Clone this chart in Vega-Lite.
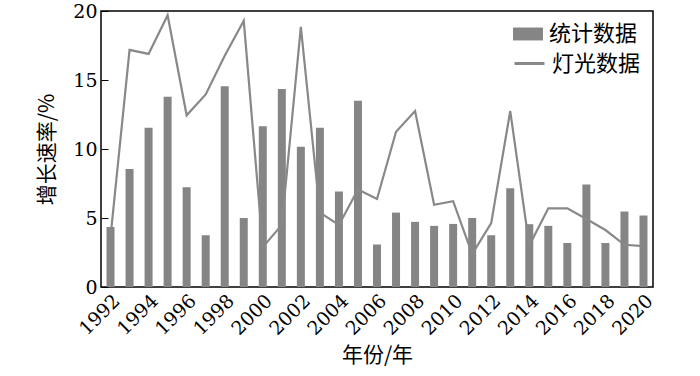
{
  "$schema": "https://vega.github.io/schema/vega-lite/v6.json",
  "width": 552,
  "height": 276,
  "autosize": {"type": "none"},
  "padding": {"left": 101, "top": 11, "right": 47, "bottom": 89},
  "background": "white",
  "config": {
    "view": {"stroke": "black", "strokeWidth": 1.5},
    "axis": {"grid": false, "domainColor": "black", "tickColor": "black", "labelColor": "black", "titleColor": "black", "titleFont": "Noto Sans CJK SC", "titleFontSize": 21, "titleFontWeight": "normal", "labelFont": "DejaVu Serif", "labelFontSize": 19},
    "legend": {"labelFont": "Noto Sans CJK SC", "labelFontSize": 22, "labelColor": "black"}
  },
  "data": {"values": [
    {"year": 1992, "stat": 4.35, "light": 3.63},
    {"year": 1993, "stat": 8.55, "light": 17.18},
    {"year": 1994, "stat": 11.54, "light": 16.89},
    {"year": 1995, "stat": 13.78, "light": 19.69},
    {"year": 1996, "stat": 7.23, "light": 12.44},
    {"year": 1997, "stat": 3.75, "light": 13.95},
    {"year": 1998, "stat": 14.55, "light": 16.75},
    {"year": 1999, "stat": 5.0, "light": 19.29},
    {"year": 2000, "stat": 11.65, "light": 2.89},
    {"year": 2001, "stat": 14.35, "light": 4.5},
    {"year": 2002, "stat": 10.17, "light": 18.85},
    {"year": 2003, "stat": 11.54, "light": 5.39},
    {"year": 2004, "stat": 6.92, "light": 4.5},
    {"year": 2005, "stat": 13.49, "light": 7.07},
    {"year": 2006, "stat": 3.08, "light": 6.38},
    {"year": 2007, "stat": 5.39, "light": 11.25},
    {"year": 2008, "stat": 4.72, "light": 12.75},
    {"year": 2009, "stat": 4.43, "light": 5.96},
    {"year": 2010, "stat": 4.57, "light": 6.22},
    {"year": 2011, "stat": 5.0, "light": 2.39},
    {"year": 2012, "stat": 3.75, "light": 4.63},
    {"year": 2013, "stat": 7.15, "light": 12.75},
    {"year": 2014, "stat": 4.55, "light": 3.0},
    {"year": 2015, "stat": 4.43, "light": 5.7},
    {"year": 2016, "stat": 3.19, "light": 5.7},
    {"year": 2017, "stat": 7.43, "light": 4.93},
    {"year": 2018, "stat": 3.19, "light": 4.13},
    {"year": 2019, "stat": 5.47, "light": 3.06},
    {"year": 2020, "stat": 5.18, "light": 2.96}
  ]},
  "encoding": {
    "x": {
      "field": "year", "type": "ordinal",
      "scale": {"paddingInner": 0.58, "paddingOuter": 0.29},
      "axis": {"title": "年份/年", "labelAngle": -45, "ticks": false, "labelPadding": 4, "titlePadding": 6,
        "labelExpr": "datum.value % 2 == 0 ? datum.label : ''", "domain": false}
    }
  },
  "layer": [
    {
      "mark": {"type": "bar"},
      "transform": [{"calculate": "'统计数据'", "as": "s1"}],
      "encoding": {
        "y": {"field": "stat", "type": "quantitative", "scale": {"domain": [0, 20]},
          "axis": {"title": "增长速率/%", "values": [0, 5, 10, 15, 20], "tickSize": -7, "labelPadding": 11, "titlePadding": 15, "domain": false}},
        "fill": {"field": "s1", "type": "nominal", "scale": {"range": ["#858585"]},
          "legend": {"title": null, "orient": "none", "legendX": 412, "legendY": 8,
            "symbolType": "M-1,-0.43H1V0.43H-1Z", "symbolSize": 900, "symbolStrokeWidth": 0, "labelOffset": 6}}
      }
    },
    {
      "mark": {"type": "line", "strokeWidth": 2.2},
      "transform": [{"calculate": "'灯光数据'", "as": "s2"}],
      "encoding": {
        "y": {"field": "light", "type": "quantitative"},
        "stroke": {"field": "s2", "type": "nominal", "scale": {"range": ["#888888"]},
          "legend": {"title": null, "orient": "none", "legendX": 412, "legendY": 36,
            "symbolType": "stroke", "symbolSize": 900, "symbolStrokeWidth": 3, "labelOffset": 6}}
      }
    }
  ]
}
